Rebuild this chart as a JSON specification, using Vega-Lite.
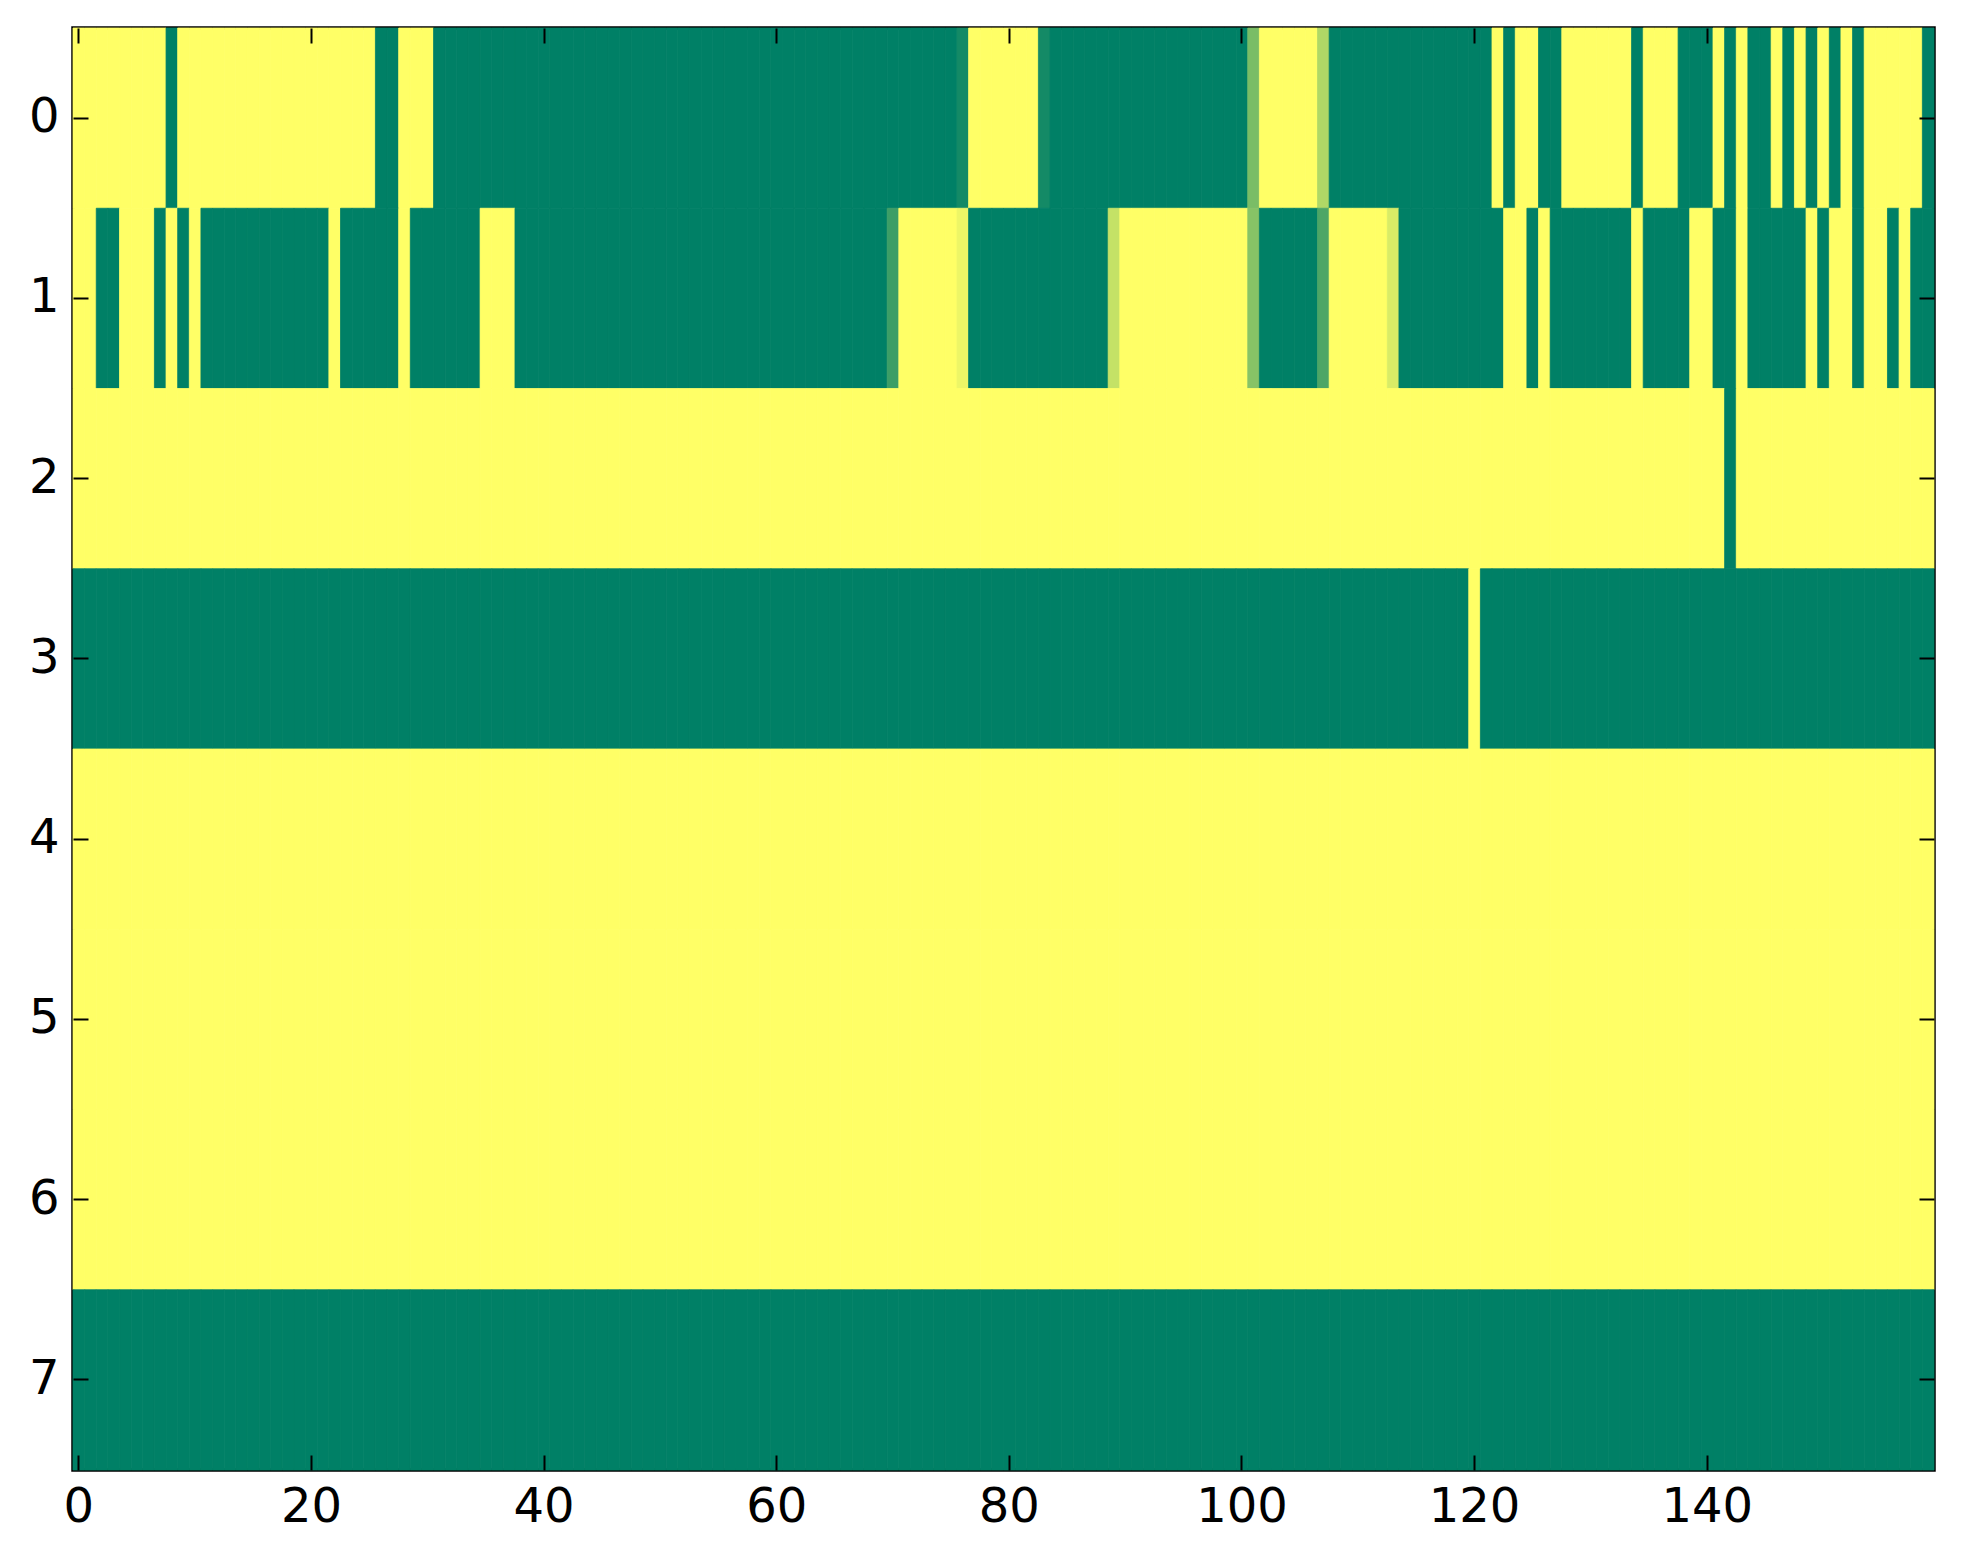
{
"$schema": "https://vega.github.io/schema/vega-lite/v6.json",
"width": 1861, "height": 1442,
"autosize": {"type": "none"},
"padding": {"left": 73, "top": 28, "right": 29, "bottom": 94},
"background": "white",
"config": {
 "view": {"stroke": "black", "strokeWidth": 3.5},
 "axis": {"domain": false, "grid": false, "title": null, "tickColor": "black", "tickWidth": 2, "tickSize": -15, "labelFont": "DejaVu Sans", "labelFontSize": 48, "labelColor": "black", "labelOverlap": false, "bandPosition": 0.5}
},
"data": {"values": [
{"r":0,"c":0,"v":1},{"r":0,"c":1,"v":1},{"r":0,"c":2,"v":1},{"r":0,"c":3,"v":1},{"r":0,"c":4,"v":1},{"r":0,"c":5,"v":1},{"r":0,"c":6,"v":1},{"r":0,"c":7,"v":1},{"r":0,"c":8,"v":0},{"r":0,"c":9,"v":1},
{"r":0,"c":10,"v":1},{"r":0,"c":11,"v":1},{"r":0,"c":12,"v":1},{"r":0,"c":13,"v":1},{"r":0,"c":14,"v":1},{"r":0,"c":15,"v":1},{"r":0,"c":16,"v":1},{"r":0,"c":17,"v":1},{"r":0,"c":18,"v":1},{"r":0,"c":19,"v":1},
{"r":0,"c":20,"v":1},{"r":0,"c":21,"v":1},{"r":0,"c":22,"v":1},{"r":0,"c":23,"v":1},{"r":0,"c":24,"v":1},{"r":0,"c":25,"v":1},{"r":0,"c":26,"v":0},{"r":0,"c":27,"v":0},{"r":0,"c":28,"v":1},{"r":0,"c":29,"v":1},
{"r":0,"c":30,"v":1},{"r":0,"c":31,"v":0},{"r":0,"c":32,"v":0},{"r":0,"c":33,"v":0},{"r":0,"c":34,"v":0},{"r":0,"c":35,"v":0},{"r":0,"c":36,"v":0},{"r":0,"c":37,"v":0},{"r":0,"c":38,"v":0},{"r":0,"c":39,"v":0},
{"r":0,"c":40,"v":0},{"r":0,"c":41,"v":0},{"r":0,"c":42,"v":0},{"r":0,"c":43,"v":0},{"r":0,"c":44,"v":0},{"r":0,"c":45,"v":0},{"r":0,"c":46,"v":0},{"r":0,"c":47,"v":0},{"r":0,"c":48,"v":0},{"r":0,"c":49,"v":0},
{"r":0,"c":50,"v":0},{"r":0,"c":51,"v":0},{"r":0,"c":52,"v":0},{"r":0,"c":53,"v":0},{"r":0,"c":54,"v":0},{"r":0,"c":55,"v":0},{"r":0,"c":56,"v":0},{"r":0,"c":57,"v":0},{"r":0,"c":58,"v":0},{"r":0,"c":59,"v":0},
{"r":0,"c":60,"v":0},{"r":0,"c":61,"v":0},{"r":0,"c":62,"v":0},{"r":0,"c":63,"v":0},{"r":0,"c":64,"v":0},{"r":0,"c":65,"v":0},{"r":0,"c":66,"v":0},{"r":0,"c":67,"v":0},{"r":0,"c":68,"v":0},{"r":0,"c":69,"v":0},
{"r":0,"c":70,"v":0},{"r":0,"c":71,"v":0},{"r":0,"c":72,"v":0},{"r":0,"c":73,"v":0},{"r":0,"c":74,"v":0},{"r":0,"c":75,"v":0},{"r":0,"c":76,"v":0.08},{"r":0,"c":77,"v":1},{"r":0,"c":78,"v":1},{"r":0,"c":79,"v":1},
{"r":0,"c":80,"v":1},{"r":0,"c":81,"v":1},{"r":0,"c":82,"v":1},{"r":0,"c":83,"v":0.08},{"r":0,"c":84,"v":0},{"r":0,"c":85,"v":0},{"r":0,"c":86,"v":0},{"r":0,"c":87,"v":0},{"r":0,"c":88,"v":0},{"r":0,"c":89,"v":0},
{"r":0,"c":90,"v":0},{"r":0,"c":91,"v":0},{"r":0,"c":92,"v":0},{"r":0,"c":93,"v":0},{"r":0,"c":94,"v":0},{"r":0,"c":95,"v":0},{"r":0,"c":96,"v":0},{"r":0,"c":97,"v":0},{"r":0,"c":98,"v":0},{"r":0,"c":99,"v":0},
{"r":0,"c":100,"v":0},{"r":0,"c":101,"v":0.48},{"r":0,"c":102,"v":1},{"r":0,"c":103,"v":1},{"r":0,"c":104,"v":1},{"r":0,"c":105,"v":1},{"r":0,"c":106,"v":1},{"r":0,"c":107,"v":0.69},{"r":0,"c":108,"v":0},{"r":0,"c":109,"v":0},
{"r":0,"c":110,"v":0},{"r":0,"c":111,"v":0},{"r":0,"c":112,"v":0},{"r":0,"c":113,"v":0},{"r":0,"c":114,"v":0},{"r":0,"c":115,"v":0},{"r":0,"c":116,"v":0},{"r":0,"c":117,"v":0},{"r":0,"c":118,"v":0},{"r":0,"c":119,"v":0},
{"r":0,"c":120,"v":0},{"r":0,"c":121,"v":0},{"r":0,"c":122,"v":1},{"r":0,"c":123,"v":0},{"r":0,"c":124,"v":1},{"r":0,"c":125,"v":1},{"r":0,"c":126,"v":0},{"r":0,"c":127,"v":0},{"r":0,"c":128,"v":1},{"r":0,"c":129,"v":1},
{"r":0,"c":130,"v":1},{"r":0,"c":131,"v":1},{"r":0,"c":132,"v":1},{"r":0,"c":133,"v":1},{"r":0,"c":134,"v":0},{"r":0,"c":135,"v":1},{"r":0,"c":136,"v":1},{"r":0,"c":137,"v":1},{"r":0,"c":138,"v":0},{"r":0,"c":139,"v":0},
{"r":0,"c":140,"v":0},{"r":0,"c":141,"v":1},{"r":0,"c":142,"v":0},{"r":0,"c":143,"v":1},{"r":0,"c":144,"v":0},{"r":0,"c":145,"v":0},{"r":0,"c":146,"v":1},{"r":0,"c":147,"v":0},{"r":0,"c":148,"v":1},{"r":0,"c":149,"v":0},
{"r":0,"c":150,"v":1},{"r":0,"c":151,"v":0},{"r":0,"c":152,"v":1},{"r":0,"c":153,"v":0},{"r":0,"c":154,"v":1},{"r":0,"c":155,"v":1},{"r":0,"c":156,"v":1},{"r":0,"c":157,"v":1},{"r":0,"c":158,"v":1},{"r":0,"c":159,"v":0},
{"r":1,"c":0,"v":1},{"r":1,"c":1,"v":1},{"r":1,"c":2,"v":0},{"r":1,"c":3,"v":0},{"r":1,"c":4,"v":1},{"r":1,"c":5,"v":1},{"r":1,"c":6,"v":1},{"r":1,"c":7,"v":0},{"r":1,"c":8,"v":1},{"r":1,"c":9,"v":0},
{"r":1,"c":10,"v":1},{"r":1,"c":11,"v":0},{"r":1,"c":12,"v":0},{"r":1,"c":13,"v":0},{"r":1,"c":14,"v":0},{"r":1,"c":15,"v":0},{"r":1,"c":16,"v":0},{"r":1,"c":17,"v":0},{"r":1,"c":18,"v":0},{"r":1,"c":19,"v":0},
{"r":1,"c":20,"v":0},{"r":1,"c":21,"v":0},{"r":1,"c":22,"v":1},{"r":1,"c":23,"v":0},{"r":1,"c":24,"v":0},{"r":1,"c":25,"v":0},{"r":1,"c":26,"v":0},{"r":1,"c":27,"v":0},{"r":1,"c":28,"v":1},{"r":1,"c":29,"v":0},
{"r":1,"c":30,"v":0},{"r":1,"c":31,"v":0},{"r":1,"c":32,"v":0},{"r":1,"c":33,"v":0},{"r":1,"c":34,"v":0},{"r":1,"c":35,"v":1},{"r":1,"c":36,"v":1},{"r":1,"c":37,"v":1},{"r":1,"c":38,"v":0},{"r":1,"c":39,"v":0},
{"r":1,"c":40,"v":0},{"r":1,"c":41,"v":0},{"r":1,"c":42,"v":0},{"r":1,"c":43,"v":0},{"r":1,"c":44,"v":0},{"r":1,"c":45,"v":0},{"r":1,"c":46,"v":0},{"r":1,"c":47,"v":0},{"r":1,"c":48,"v":0},{"r":1,"c":49,"v":0},
{"r":1,"c":50,"v":0},{"r":1,"c":51,"v":0},{"r":1,"c":52,"v":0},{"r":1,"c":53,"v":0},{"r":1,"c":54,"v":0},{"r":1,"c":55,"v":0},{"r":1,"c":56,"v":0},{"r":1,"c":57,"v":0},{"r":1,"c":58,"v":0},{"r":1,"c":59,"v":0},
{"r":1,"c":60,"v":0},{"r":1,"c":61,"v":0},{"r":1,"c":62,"v":0},{"r":1,"c":63,"v":0},{"r":1,"c":64,"v":0},{"r":1,"c":65,"v":0},{"r":1,"c":66,"v":0},{"r":1,"c":67,"v":0},{"r":1,"c":68,"v":0},{"r":1,"c":69,"v":0},
{"r":1,"c":70,"v":0.24},{"r":1,"c":71,"v":1},{"r":1,"c":72,"v":1},{"r":1,"c":73,"v":1},{"r":1,"c":74,"v":1},{"r":1,"c":75,"v":1},{"r":1,"c":76,"v":0.93},{"r":1,"c":77,"v":0},{"r":1,"c":78,"v":0},{"r":1,"c":79,"v":0},
{"r":1,"c":80,"v":0},{"r":1,"c":81,"v":0},{"r":1,"c":82,"v":0},{"r":1,"c":83,"v":0},{"r":1,"c":84,"v":0},{"r":1,"c":85,"v":0},{"r":1,"c":86,"v":0},{"r":1,"c":87,"v":0},{"r":1,"c":88,"v":0},{"r":1,"c":89,"v":0.77},
{"r":1,"c":90,"v":1},{"r":1,"c":91,"v":1},{"r":1,"c":92,"v":1},{"r":1,"c":93,"v":1},{"r":1,"c":94,"v":1},{"r":1,"c":95,"v":1},{"r":1,"c":96,"v":1},{"r":1,"c":97,"v":1},{"r":1,"c":98,"v":1},{"r":1,"c":99,"v":1},
{"r":1,"c":100,"v":1},{"r":1,"c":101,"v":0.53},{"r":1,"c":102,"v":0},{"r":1,"c":103,"v":0},{"r":1,"c":104,"v":0},{"r":1,"c":105,"v":0},{"r":1,"c":106,"v":0},{"r":1,"c":107,"v":0.3},{"r":1,"c":108,"v":1},{"r":1,"c":109,"v":1},
{"r":1,"c":110,"v":1},{"r":1,"c":111,"v":1},{"r":1,"c":112,"v":1},{"r":1,"c":113,"v":0.85},{"r":1,"c":114,"v":0},{"r":1,"c":115,"v":0},{"r":1,"c":116,"v":0},{"r":1,"c":117,"v":0},{"r":1,"c":118,"v":0},{"r":1,"c":119,"v":0},
{"r":1,"c":120,"v":0},{"r":1,"c":121,"v":0},{"r":1,"c":122,"v":0},{"r":1,"c":123,"v":1},{"r":1,"c":124,"v":1},{"r":1,"c":125,"v":0},{"r":1,"c":126,"v":1},{"r":1,"c":127,"v":0},{"r":1,"c":128,"v":0},{"r":1,"c":129,"v":0},
{"r":1,"c":130,"v":0},{"r":1,"c":131,"v":0},{"r":1,"c":132,"v":0},{"r":1,"c":133,"v":0},{"r":1,"c":134,"v":1},{"r":1,"c":135,"v":0},{"r":1,"c":136,"v":0},{"r":1,"c":137,"v":0},{"r":1,"c":138,"v":0},{"r":1,"c":139,"v":1},
{"r":1,"c":140,"v":1},{"r":1,"c":141,"v":0},{"r":1,"c":142,"v":0},{"r":1,"c":143,"v":1},{"r":1,"c":144,"v":0},{"r":1,"c":145,"v":0},{"r":1,"c":146,"v":0},{"r":1,"c":147,"v":0},{"r":1,"c":148,"v":0},{"r":1,"c":149,"v":1},
{"r":1,"c":150,"v":0},{"r":1,"c":151,"v":1},{"r":1,"c":152,"v":1},{"r":1,"c":153,"v":0},{"r":1,"c":154,"v":1},{"r":1,"c":155,"v":1},{"r":1,"c":156,"v":0},{"r":1,"c":157,"v":1},{"r":1,"c":158,"v":0},{"r":1,"c":159,"v":0},
{"r":2,"c":0,"v":1},{"r":2,"c":1,"v":1},{"r":2,"c":2,"v":1},{"r":2,"c":3,"v":1},{"r":2,"c":4,"v":1},{"r":2,"c":5,"v":1},{"r":2,"c":6,"v":1},{"r":2,"c":7,"v":1},{"r":2,"c":8,"v":1},{"r":2,"c":9,"v":1},
{"r":2,"c":10,"v":1},{"r":2,"c":11,"v":1},{"r":2,"c":12,"v":1},{"r":2,"c":13,"v":1},{"r":2,"c":14,"v":1},{"r":2,"c":15,"v":1},{"r":2,"c":16,"v":1},{"r":2,"c":17,"v":1},{"r":2,"c":18,"v":1},{"r":2,"c":19,"v":1},
{"r":2,"c":20,"v":1},{"r":2,"c":21,"v":1},{"r":2,"c":22,"v":1},{"r":2,"c":23,"v":1},{"r":2,"c":24,"v":1},{"r":2,"c":25,"v":1},{"r":2,"c":26,"v":1},{"r":2,"c":27,"v":1},{"r":2,"c":28,"v":1},{"r":2,"c":29,"v":1},
{"r":2,"c":30,"v":1},{"r":2,"c":31,"v":1},{"r":2,"c":32,"v":1},{"r":2,"c":33,"v":1},{"r":2,"c":34,"v":1},{"r":2,"c":35,"v":1},{"r":2,"c":36,"v":1},{"r":2,"c":37,"v":1},{"r":2,"c":38,"v":1},{"r":2,"c":39,"v":1},
{"r":2,"c":40,"v":1},{"r":2,"c":41,"v":1},{"r":2,"c":42,"v":1},{"r":2,"c":43,"v":1},{"r":2,"c":44,"v":1},{"r":2,"c":45,"v":1},{"r":2,"c":46,"v":1},{"r":2,"c":47,"v":1},{"r":2,"c":48,"v":1},{"r":2,"c":49,"v":1},
{"r":2,"c":50,"v":1},{"r":2,"c":51,"v":1},{"r":2,"c":52,"v":1},{"r":2,"c":53,"v":1},{"r":2,"c":54,"v":1},{"r":2,"c":55,"v":1},{"r":2,"c":56,"v":1},{"r":2,"c":57,"v":1},{"r":2,"c":58,"v":1},{"r":2,"c":59,"v":1},
{"r":2,"c":60,"v":1},{"r":2,"c":61,"v":1},{"r":2,"c":62,"v":1},{"r":2,"c":63,"v":1},{"r":2,"c":64,"v":1},{"r":2,"c":65,"v":1},{"r":2,"c":66,"v":1},{"r":2,"c":67,"v":1},{"r":2,"c":68,"v":1},{"r":2,"c":69,"v":1},
{"r":2,"c":70,"v":1},{"r":2,"c":71,"v":1},{"r":2,"c":72,"v":1},{"r":2,"c":73,"v":1},{"r":2,"c":74,"v":1},{"r":2,"c":75,"v":1},{"r":2,"c":76,"v":1},{"r":2,"c":77,"v":1},{"r":2,"c":78,"v":1},{"r":2,"c":79,"v":1},
{"r":2,"c":80,"v":1},{"r":2,"c":81,"v":1},{"r":2,"c":82,"v":1},{"r":2,"c":83,"v":1},{"r":2,"c":84,"v":1},{"r":2,"c":85,"v":1},{"r":2,"c":86,"v":1},{"r":2,"c":87,"v":1},{"r":2,"c":88,"v":1},{"r":2,"c":89,"v":1},
{"r":2,"c":90,"v":1},{"r":2,"c":91,"v":1},{"r":2,"c":92,"v":1},{"r":2,"c":93,"v":1},{"r":2,"c":94,"v":1},{"r":2,"c":95,"v":1},{"r":2,"c":96,"v":1},{"r":2,"c":97,"v":1},{"r":2,"c":98,"v":1},{"r":2,"c":99,"v":1},
{"r":2,"c":100,"v":1},{"r":2,"c":101,"v":1},{"r":2,"c":102,"v":1},{"r":2,"c":103,"v":1},{"r":2,"c":104,"v":1},{"r":2,"c":105,"v":1},{"r":2,"c":106,"v":1},{"r":2,"c":107,"v":1},{"r":2,"c":108,"v":1},{"r":2,"c":109,"v":1},
{"r":2,"c":110,"v":1},{"r":2,"c":111,"v":1},{"r":2,"c":112,"v":1},{"r":2,"c":113,"v":1},{"r":2,"c":114,"v":1},{"r":2,"c":115,"v":1},{"r":2,"c":116,"v":1},{"r":2,"c":117,"v":1},{"r":2,"c":118,"v":1},{"r":2,"c":119,"v":1},
{"r":2,"c":120,"v":1},{"r":2,"c":121,"v":1},{"r":2,"c":122,"v":1},{"r":2,"c":123,"v":1},{"r":2,"c":124,"v":1},{"r":2,"c":125,"v":1},{"r":2,"c":126,"v":1},{"r":2,"c":127,"v":1},{"r":2,"c":128,"v":1},{"r":2,"c":129,"v":1},
{"r":2,"c":130,"v":1},{"r":2,"c":131,"v":1},{"r":2,"c":132,"v":1},{"r":2,"c":133,"v":1},{"r":2,"c":134,"v":1},{"r":2,"c":135,"v":1},{"r":2,"c":136,"v":1},{"r":2,"c":137,"v":1},{"r":2,"c":138,"v":1},{"r":2,"c":139,"v":1},
{"r":2,"c":140,"v":1},{"r":2,"c":141,"v":1},{"r":2,"c":142,"v":0},{"r":2,"c":143,"v":1},{"r":2,"c":144,"v":1},{"r":2,"c":145,"v":1},{"r":2,"c":146,"v":1},{"r":2,"c":147,"v":1},{"r":2,"c":148,"v":1},{"r":2,"c":149,"v":1},
{"r":2,"c":150,"v":1},{"r":2,"c":151,"v":1},{"r":2,"c":152,"v":1},{"r":2,"c":153,"v":1},{"r":2,"c":154,"v":1},{"r":2,"c":155,"v":1},{"r":2,"c":156,"v":1},{"r":2,"c":157,"v":1},{"r":2,"c":158,"v":1},{"r":2,"c":159,"v":1},
{"r":3,"c":0,"v":0},{"r":3,"c":1,"v":0},{"r":3,"c":2,"v":0},{"r":3,"c":3,"v":0},{"r":3,"c":4,"v":0},{"r":3,"c":5,"v":0},{"r":3,"c":6,"v":0},{"r":3,"c":7,"v":0},{"r":3,"c":8,"v":0},{"r":3,"c":9,"v":0},
{"r":3,"c":10,"v":0},{"r":3,"c":11,"v":0},{"r":3,"c":12,"v":0},{"r":3,"c":13,"v":0},{"r":3,"c":14,"v":0},{"r":3,"c":15,"v":0},{"r":3,"c":16,"v":0},{"r":3,"c":17,"v":0},{"r":3,"c":18,"v":0},{"r":3,"c":19,"v":0},
{"r":3,"c":20,"v":0},{"r":3,"c":21,"v":0},{"r":3,"c":22,"v":0},{"r":3,"c":23,"v":0},{"r":3,"c":24,"v":0},{"r":3,"c":25,"v":0},{"r":3,"c":26,"v":0},{"r":3,"c":27,"v":0},{"r":3,"c":28,"v":0},{"r":3,"c":29,"v":0},
{"r":3,"c":30,"v":0},{"r":3,"c":31,"v":0},{"r":3,"c":32,"v":0},{"r":3,"c":33,"v":0},{"r":3,"c":34,"v":0},{"r":3,"c":35,"v":0},{"r":3,"c":36,"v":0},{"r":3,"c":37,"v":0},{"r":3,"c":38,"v":0},{"r":3,"c":39,"v":0},
{"r":3,"c":40,"v":0},{"r":3,"c":41,"v":0},{"r":3,"c":42,"v":0},{"r":3,"c":43,"v":0},{"r":3,"c":44,"v":0},{"r":3,"c":45,"v":0},{"r":3,"c":46,"v":0},{"r":3,"c":47,"v":0},{"r":3,"c":48,"v":0},{"r":3,"c":49,"v":0},
{"r":3,"c":50,"v":0},{"r":3,"c":51,"v":0},{"r":3,"c":52,"v":0},{"r":3,"c":53,"v":0},{"r":3,"c":54,"v":0},{"r":3,"c":55,"v":0},{"r":3,"c":56,"v":0},{"r":3,"c":57,"v":0},{"r":3,"c":58,"v":0},{"r":3,"c":59,"v":0},
{"r":3,"c":60,"v":0},{"r":3,"c":61,"v":0},{"r":3,"c":62,"v":0},{"r":3,"c":63,"v":0},{"r":3,"c":64,"v":0},{"r":3,"c":65,"v":0},{"r":3,"c":66,"v":0},{"r":3,"c":67,"v":0},{"r":3,"c":68,"v":0},{"r":3,"c":69,"v":0},
{"r":3,"c":70,"v":0},{"r":3,"c":71,"v":0},{"r":3,"c":72,"v":0},{"r":3,"c":73,"v":0},{"r":3,"c":74,"v":0},{"r":3,"c":75,"v":0},{"r":3,"c":76,"v":0},{"r":3,"c":77,"v":0},{"r":3,"c":78,"v":0},{"r":3,"c":79,"v":0},
{"r":3,"c":80,"v":0},{"r":3,"c":81,"v":0},{"r":3,"c":82,"v":0},{"r":3,"c":83,"v":0},{"r":3,"c":84,"v":0},{"r":3,"c":85,"v":0},{"r":3,"c":86,"v":0},{"r":3,"c":87,"v":0},{"r":3,"c":88,"v":0},{"r":3,"c":89,"v":0},
{"r":3,"c":90,"v":0},{"r":3,"c":91,"v":0},{"r":3,"c":92,"v":0},{"r":3,"c":93,"v":0},{"r":3,"c":94,"v":0},{"r":3,"c":95,"v":0},{"r":3,"c":96,"v":0},{"r":3,"c":97,"v":0},{"r":3,"c":98,"v":0},{"r":3,"c":99,"v":0},
{"r":3,"c":100,"v":0},{"r":3,"c":101,"v":0},{"r":3,"c":102,"v":0},{"r":3,"c":103,"v":0},{"r":3,"c":104,"v":0},{"r":3,"c":105,"v":0},{"r":3,"c":106,"v":0},{"r":3,"c":107,"v":0},{"r":3,"c":108,"v":0},{"r":3,"c":109,"v":0},
{"r":3,"c":110,"v":0},{"r":3,"c":111,"v":0},{"r":3,"c":112,"v":0},{"r":3,"c":113,"v":0},{"r":3,"c":114,"v":0},{"r":3,"c":115,"v":0},{"r":3,"c":116,"v":0},{"r":3,"c":117,"v":0},{"r":3,"c":118,"v":0},{"r":3,"c":119,"v":0},
{"r":3,"c":120,"v":1},{"r":3,"c":121,"v":0},{"r":3,"c":122,"v":0},{"r":3,"c":123,"v":0},{"r":3,"c":124,"v":0},{"r":3,"c":125,"v":0},{"r":3,"c":126,"v":0},{"r":3,"c":127,"v":0},{"r":3,"c":128,"v":0},{"r":3,"c":129,"v":0},
{"r":3,"c":130,"v":0},{"r":3,"c":131,"v":0},{"r":3,"c":132,"v":0},{"r":3,"c":133,"v":0},{"r":3,"c":134,"v":0},{"r":3,"c":135,"v":0},{"r":3,"c":136,"v":0},{"r":3,"c":137,"v":0},{"r":3,"c":138,"v":0},{"r":3,"c":139,"v":0},
{"r":3,"c":140,"v":0},{"r":3,"c":141,"v":0},{"r":3,"c":142,"v":0},{"r":3,"c":143,"v":0},{"r":3,"c":144,"v":0},{"r":3,"c":145,"v":0},{"r":3,"c":146,"v":0},{"r":3,"c":147,"v":0},{"r":3,"c":148,"v":0},{"r":3,"c":149,"v":0},
{"r":3,"c":150,"v":0},{"r":3,"c":151,"v":0},{"r":3,"c":152,"v":0},{"r":3,"c":153,"v":0},{"r":3,"c":154,"v":0},{"r":3,"c":155,"v":0},{"r":3,"c":156,"v":0},{"r":3,"c":157,"v":0},{"r":3,"c":158,"v":0},{"r":3,"c":159,"v":0},
{"r":4,"c":0,"v":1},{"r":4,"c":1,"v":1},{"r":4,"c":2,"v":1},{"r":4,"c":3,"v":1},{"r":4,"c":4,"v":1},{"r":4,"c":5,"v":1},{"r":4,"c":6,"v":1},{"r":4,"c":7,"v":1},{"r":4,"c":8,"v":1},{"r":4,"c":9,"v":1},
{"r":4,"c":10,"v":1},{"r":4,"c":11,"v":1},{"r":4,"c":12,"v":1},{"r":4,"c":13,"v":1},{"r":4,"c":14,"v":1},{"r":4,"c":15,"v":1},{"r":4,"c":16,"v":1},{"r":4,"c":17,"v":1},{"r":4,"c":18,"v":1},{"r":4,"c":19,"v":1},
{"r":4,"c":20,"v":1},{"r":4,"c":21,"v":1},{"r":4,"c":22,"v":1},{"r":4,"c":23,"v":1},{"r":4,"c":24,"v":1},{"r":4,"c":25,"v":1},{"r":4,"c":26,"v":1},{"r":4,"c":27,"v":1},{"r":4,"c":28,"v":1},{"r":4,"c":29,"v":1},
{"r":4,"c":30,"v":1},{"r":4,"c":31,"v":1},{"r":4,"c":32,"v":1},{"r":4,"c":33,"v":1},{"r":4,"c":34,"v":1},{"r":4,"c":35,"v":1},{"r":4,"c":36,"v":1},{"r":4,"c":37,"v":1},{"r":4,"c":38,"v":1},{"r":4,"c":39,"v":1},
{"r":4,"c":40,"v":1},{"r":4,"c":41,"v":1},{"r":4,"c":42,"v":1},{"r":4,"c":43,"v":1},{"r":4,"c":44,"v":1},{"r":4,"c":45,"v":1},{"r":4,"c":46,"v":1},{"r":4,"c":47,"v":1},{"r":4,"c":48,"v":1},{"r":4,"c":49,"v":1},
{"r":4,"c":50,"v":1},{"r":4,"c":51,"v":1},{"r":4,"c":52,"v":1},{"r":4,"c":53,"v":1},{"r":4,"c":54,"v":1},{"r":4,"c":55,"v":1},{"r":4,"c":56,"v":1},{"r":4,"c":57,"v":1},{"r":4,"c":58,"v":1},{"r":4,"c":59,"v":1},
{"r":4,"c":60,"v":1},{"r":4,"c":61,"v":1},{"r":4,"c":62,"v":1},{"r":4,"c":63,"v":1},{"r":4,"c":64,"v":1},{"r":4,"c":65,"v":1},{"r":4,"c":66,"v":1},{"r":4,"c":67,"v":1},{"r":4,"c":68,"v":1},{"r":4,"c":69,"v":1},
{"r":4,"c":70,"v":1},{"r":4,"c":71,"v":1},{"r":4,"c":72,"v":1},{"r":4,"c":73,"v":1},{"r":4,"c":74,"v":1},{"r":4,"c":75,"v":1},{"r":4,"c":76,"v":1},{"r":4,"c":77,"v":1},{"r":4,"c":78,"v":1},{"r":4,"c":79,"v":1},
{"r":4,"c":80,"v":1},{"r":4,"c":81,"v":1},{"r":4,"c":82,"v":1},{"r":4,"c":83,"v":1},{"r":4,"c":84,"v":1},{"r":4,"c":85,"v":1},{"r":4,"c":86,"v":1},{"r":4,"c":87,"v":1},{"r":4,"c":88,"v":1},{"r":4,"c":89,"v":1},
{"r":4,"c":90,"v":1},{"r":4,"c":91,"v":1},{"r":4,"c":92,"v":1},{"r":4,"c":93,"v":1},{"r":4,"c":94,"v":1},{"r":4,"c":95,"v":1},{"r":4,"c":96,"v":1},{"r":4,"c":97,"v":1},{"r":4,"c":98,"v":1},{"r":4,"c":99,"v":1},
{"r":4,"c":100,"v":1},{"r":4,"c":101,"v":1},{"r":4,"c":102,"v":1},{"r":4,"c":103,"v":1},{"r":4,"c":104,"v":1},{"r":4,"c":105,"v":1},{"r":4,"c":106,"v":1},{"r":4,"c":107,"v":1},{"r":4,"c":108,"v":1},{"r":4,"c":109,"v":1},
{"r":4,"c":110,"v":1},{"r":4,"c":111,"v":1},{"r":4,"c":112,"v":1},{"r":4,"c":113,"v":1},{"r":4,"c":114,"v":1},{"r":4,"c":115,"v":1},{"r":4,"c":116,"v":1},{"r":4,"c":117,"v":1},{"r":4,"c":118,"v":1},{"r":4,"c":119,"v":1},
{"r":4,"c":120,"v":1},{"r":4,"c":121,"v":1},{"r":4,"c":122,"v":1},{"r":4,"c":123,"v":1},{"r":4,"c":124,"v":1},{"r":4,"c":125,"v":1},{"r":4,"c":126,"v":1},{"r":4,"c":127,"v":1},{"r":4,"c":128,"v":1},{"r":4,"c":129,"v":1},
{"r":4,"c":130,"v":1},{"r":4,"c":131,"v":1},{"r":4,"c":132,"v":1},{"r":4,"c":133,"v":1},{"r":4,"c":134,"v":1},{"r":4,"c":135,"v":1},{"r":4,"c":136,"v":1},{"r":4,"c":137,"v":1},{"r":4,"c":138,"v":1},{"r":4,"c":139,"v":1},
{"r":4,"c":140,"v":1},{"r":4,"c":141,"v":1},{"r":4,"c":142,"v":1},{"r":4,"c":143,"v":1},{"r":4,"c":144,"v":1},{"r":4,"c":145,"v":1},{"r":4,"c":146,"v":1},{"r":4,"c":147,"v":1},{"r":4,"c":148,"v":1},{"r":4,"c":149,"v":1},
{"r":4,"c":150,"v":1},{"r":4,"c":151,"v":1},{"r":4,"c":152,"v":1},{"r":4,"c":153,"v":1},{"r":4,"c":154,"v":1},{"r":4,"c":155,"v":1},{"r":4,"c":156,"v":1},{"r":4,"c":157,"v":1},{"r":4,"c":158,"v":1},{"r":4,"c":159,"v":1},
{"r":5,"c":0,"v":1},{"r":5,"c":1,"v":1},{"r":5,"c":2,"v":1},{"r":5,"c":3,"v":1},{"r":5,"c":4,"v":1},{"r":5,"c":5,"v":1},{"r":5,"c":6,"v":1},{"r":5,"c":7,"v":1},{"r":5,"c":8,"v":1},{"r":5,"c":9,"v":1},
{"r":5,"c":10,"v":1},{"r":5,"c":11,"v":1},{"r":5,"c":12,"v":1},{"r":5,"c":13,"v":1},{"r":5,"c":14,"v":1},{"r":5,"c":15,"v":1},{"r":5,"c":16,"v":1},{"r":5,"c":17,"v":1},{"r":5,"c":18,"v":1},{"r":5,"c":19,"v":1},
{"r":5,"c":20,"v":1},{"r":5,"c":21,"v":1},{"r":5,"c":22,"v":1},{"r":5,"c":23,"v":1},{"r":5,"c":24,"v":1},{"r":5,"c":25,"v":1},{"r":5,"c":26,"v":1},{"r":5,"c":27,"v":1},{"r":5,"c":28,"v":1},{"r":5,"c":29,"v":1},
{"r":5,"c":30,"v":1},{"r":5,"c":31,"v":1},{"r":5,"c":32,"v":1},{"r":5,"c":33,"v":1},{"r":5,"c":34,"v":1},{"r":5,"c":35,"v":1},{"r":5,"c":36,"v":1},{"r":5,"c":37,"v":1},{"r":5,"c":38,"v":1},{"r":5,"c":39,"v":1},
{"r":5,"c":40,"v":1},{"r":5,"c":41,"v":1},{"r":5,"c":42,"v":1},{"r":5,"c":43,"v":1},{"r":5,"c":44,"v":1},{"r":5,"c":45,"v":1},{"r":5,"c":46,"v":1},{"r":5,"c":47,"v":1},{"r":5,"c":48,"v":1},{"r":5,"c":49,"v":1},
{"r":5,"c":50,"v":1},{"r":5,"c":51,"v":1},{"r":5,"c":52,"v":1},{"r":5,"c":53,"v":1},{"r":5,"c":54,"v":1},{"r":5,"c":55,"v":1},{"r":5,"c":56,"v":1},{"r":5,"c":57,"v":1},{"r":5,"c":58,"v":1},{"r":5,"c":59,"v":1},
{"r":5,"c":60,"v":1},{"r":5,"c":61,"v":1},{"r":5,"c":62,"v":1},{"r":5,"c":63,"v":1},{"r":5,"c":64,"v":1},{"r":5,"c":65,"v":1},{"r":5,"c":66,"v":1},{"r":5,"c":67,"v":1},{"r":5,"c":68,"v":1},{"r":5,"c":69,"v":1},
{"r":5,"c":70,"v":1},{"r":5,"c":71,"v":1},{"r":5,"c":72,"v":1},{"r":5,"c":73,"v":1},{"r":5,"c":74,"v":1},{"r":5,"c":75,"v":1},{"r":5,"c":76,"v":1},{"r":5,"c":77,"v":1},{"r":5,"c":78,"v":1},{"r":5,"c":79,"v":1},
{"r":5,"c":80,"v":1},{"r":5,"c":81,"v":1},{"r":5,"c":82,"v":1},{"r":5,"c":83,"v":1},{"r":5,"c":84,"v":1},{"r":5,"c":85,"v":1},{"r":5,"c":86,"v":1},{"r":5,"c":87,"v":1},{"r":5,"c":88,"v":1},{"r":5,"c":89,"v":1},
{"r":5,"c":90,"v":1},{"r":5,"c":91,"v":1},{"r":5,"c":92,"v":1},{"r":5,"c":93,"v":1},{"r":5,"c":94,"v":1},{"r":5,"c":95,"v":1},{"r":5,"c":96,"v":1},{"r":5,"c":97,"v":1},{"r":5,"c":98,"v":1},{"r":5,"c":99,"v":1},
{"r":5,"c":100,"v":1},{"r":5,"c":101,"v":1},{"r":5,"c":102,"v":1},{"r":5,"c":103,"v":1},{"r":5,"c":104,"v":1},{"r":5,"c":105,"v":1},{"r":5,"c":106,"v":1},{"r":5,"c":107,"v":1},{"r":5,"c":108,"v":1},{"r":5,"c":109,"v":1},
{"r":5,"c":110,"v":1},{"r":5,"c":111,"v":1},{"r":5,"c":112,"v":1},{"r":5,"c":113,"v":1},{"r":5,"c":114,"v":1},{"r":5,"c":115,"v":1},{"r":5,"c":116,"v":1},{"r":5,"c":117,"v":1},{"r":5,"c":118,"v":1},{"r":5,"c":119,"v":1},
{"r":5,"c":120,"v":1},{"r":5,"c":121,"v":1},{"r":5,"c":122,"v":1},{"r":5,"c":123,"v":1},{"r":5,"c":124,"v":1},{"r":5,"c":125,"v":1},{"r":5,"c":126,"v":1},{"r":5,"c":127,"v":1},{"r":5,"c":128,"v":1},{"r":5,"c":129,"v":1},
{"r":5,"c":130,"v":1},{"r":5,"c":131,"v":1},{"r":5,"c":132,"v":1},{"r":5,"c":133,"v":1},{"r":5,"c":134,"v":1},{"r":5,"c":135,"v":1},{"r":5,"c":136,"v":1},{"r":5,"c":137,"v":1},{"r":5,"c":138,"v":1},{"r":5,"c":139,"v":1},
{"r":5,"c":140,"v":1},{"r":5,"c":141,"v":1},{"r":5,"c":142,"v":1},{"r":5,"c":143,"v":1},{"r":5,"c":144,"v":1},{"r":5,"c":145,"v":1},{"r":5,"c":146,"v":1},{"r":5,"c":147,"v":1},{"r":5,"c":148,"v":1},{"r":5,"c":149,"v":1},
{"r":5,"c":150,"v":1},{"r":5,"c":151,"v":1},{"r":5,"c":152,"v":1},{"r":5,"c":153,"v":1},{"r":5,"c":154,"v":1},{"r":5,"c":155,"v":1},{"r":5,"c":156,"v":1},{"r":5,"c":157,"v":1},{"r":5,"c":158,"v":1},{"r":5,"c":159,"v":1},
{"r":6,"c":0,"v":1},{"r":6,"c":1,"v":1},{"r":6,"c":2,"v":1},{"r":6,"c":3,"v":1},{"r":6,"c":4,"v":1},{"r":6,"c":5,"v":1},{"r":6,"c":6,"v":1},{"r":6,"c":7,"v":1},{"r":6,"c":8,"v":1},{"r":6,"c":9,"v":1},
{"r":6,"c":10,"v":1},{"r":6,"c":11,"v":1},{"r":6,"c":12,"v":1},{"r":6,"c":13,"v":1},{"r":6,"c":14,"v":1},{"r":6,"c":15,"v":1},{"r":6,"c":16,"v":1},{"r":6,"c":17,"v":1},{"r":6,"c":18,"v":1},{"r":6,"c":19,"v":1},
{"r":6,"c":20,"v":1},{"r":6,"c":21,"v":1},{"r":6,"c":22,"v":1},{"r":6,"c":23,"v":1},{"r":6,"c":24,"v":1},{"r":6,"c":25,"v":1},{"r":6,"c":26,"v":1},{"r":6,"c":27,"v":1},{"r":6,"c":28,"v":1},{"r":6,"c":29,"v":1},
{"r":6,"c":30,"v":1},{"r":6,"c":31,"v":1},{"r":6,"c":32,"v":1},{"r":6,"c":33,"v":1},{"r":6,"c":34,"v":1},{"r":6,"c":35,"v":1},{"r":6,"c":36,"v":1},{"r":6,"c":37,"v":1},{"r":6,"c":38,"v":1},{"r":6,"c":39,"v":1},
{"r":6,"c":40,"v":1},{"r":6,"c":41,"v":1},{"r":6,"c":42,"v":1},{"r":6,"c":43,"v":1},{"r":6,"c":44,"v":1},{"r":6,"c":45,"v":1},{"r":6,"c":46,"v":1},{"r":6,"c":47,"v":1},{"r":6,"c":48,"v":1},{"r":6,"c":49,"v":1},
{"r":6,"c":50,"v":1},{"r":6,"c":51,"v":1},{"r":6,"c":52,"v":1},{"r":6,"c":53,"v":1},{"r":6,"c":54,"v":1},{"r":6,"c":55,"v":1},{"r":6,"c":56,"v":1},{"r":6,"c":57,"v":1},{"r":6,"c":58,"v":1},{"r":6,"c":59,"v":1},
{"r":6,"c":60,"v":1},{"r":6,"c":61,"v":1},{"r":6,"c":62,"v":1},{"r":6,"c":63,"v":1},{"r":6,"c":64,"v":1},{"r":6,"c":65,"v":1},{"r":6,"c":66,"v":1},{"r":6,"c":67,"v":1},{"r":6,"c":68,"v":1},{"r":6,"c":69,"v":1},
{"r":6,"c":70,"v":1},{"r":6,"c":71,"v":1},{"r":6,"c":72,"v":1},{"r":6,"c":73,"v":1},{"r":6,"c":74,"v":1},{"r":6,"c":75,"v":1},{"r":6,"c":76,"v":1},{"r":6,"c":77,"v":1},{"r":6,"c":78,"v":1},{"r":6,"c":79,"v":1},
{"r":6,"c":80,"v":1},{"r":6,"c":81,"v":1},{"r":6,"c":82,"v":1},{"r":6,"c":83,"v":1},{"r":6,"c":84,"v":1},{"r":6,"c":85,"v":1},{"r":6,"c":86,"v":1},{"r":6,"c":87,"v":1},{"r":6,"c":88,"v":1},{"r":6,"c":89,"v":1},
{"r":6,"c":90,"v":1},{"r":6,"c":91,"v":1},{"r":6,"c":92,"v":1},{"r":6,"c":93,"v":1},{"r":6,"c":94,"v":1},{"r":6,"c":95,"v":1},{"r":6,"c":96,"v":1},{"r":6,"c":97,"v":1},{"r":6,"c":98,"v":1},{"r":6,"c":99,"v":1},
{"r":6,"c":100,"v":1},{"r":6,"c":101,"v":1},{"r":6,"c":102,"v":1},{"r":6,"c":103,"v":1},{"r":6,"c":104,"v":1},{"r":6,"c":105,"v":1},{"r":6,"c":106,"v":1},{"r":6,"c":107,"v":1},{"r":6,"c":108,"v":1},{"r":6,"c":109,"v":1},
{"r":6,"c":110,"v":1},{"r":6,"c":111,"v":1},{"r":6,"c":112,"v":1},{"r":6,"c":113,"v":1},{"r":6,"c":114,"v":1},{"r":6,"c":115,"v":1},{"r":6,"c":116,"v":1},{"r":6,"c":117,"v":1},{"r":6,"c":118,"v":1},{"r":6,"c":119,"v":1},
{"r":6,"c":120,"v":1},{"r":6,"c":121,"v":1},{"r":6,"c":122,"v":1},{"r":6,"c":123,"v":1},{"r":6,"c":124,"v":1},{"r":6,"c":125,"v":1},{"r":6,"c":126,"v":1},{"r":6,"c":127,"v":1},{"r":6,"c":128,"v":1},{"r":6,"c":129,"v":1},
{"r":6,"c":130,"v":1},{"r":6,"c":131,"v":1},{"r":6,"c":132,"v":1},{"r":6,"c":133,"v":1},{"r":6,"c":134,"v":1},{"r":6,"c":135,"v":1},{"r":6,"c":136,"v":1},{"r":6,"c":137,"v":1},{"r":6,"c":138,"v":1},{"r":6,"c":139,"v":1},
{"r":6,"c":140,"v":1},{"r":6,"c":141,"v":1},{"r":6,"c":142,"v":1},{"r":6,"c":143,"v":1},{"r":6,"c":144,"v":1},{"r":6,"c":145,"v":1},{"r":6,"c":146,"v":1},{"r":6,"c":147,"v":1},{"r":6,"c":148,"v":1},{"r":6,"c":149,"v":1},
{"r":6,"c":150,"v":1},{"r":6,"c":151,"v":1},{"r":6,"c":152,"v":1},{"r":6,"c":153,"v":1},{"r":6,"c":154,"v":1},{"r":6,"c":155,"v":1},{"r":6,"c":156,"v":1},{"r":6,"c":157,"v":1},{"r":6,"c":158,"v":1},{"r":6,"c":159,"v":1},
{"r":7,"c":0,"v":0},{"r":7,"c":1,"v":0},{"r":7,"c":2,"v":0},{"r":7,"c":3,"v":0},{"r":7,"c":4,"v":0},{"r":7,"c":5,"v":0},{"r":7,"c":6,"v":0},{"r":7,"c":7,"v":0},{"r":7,"c":8,"v":0},{"r":7,"c":9,"v":0},
{"r":7,"c":10,"v":0},{"r":7,"c":11,"v":0},{"r":7,"c":12,"v":0},{"r":7,"c":13,"v":0},{"r":7,"c":14,"v":0},{"r":7,"c":15,"v":0},{"r":7,"c":16,"v":0},{"r":7,"c":17,"v":0},{"r":7,"c":18,"v":0},{"r":7,"c":19,"v":0},
{"r":7,"c":20,"v":0},{"r":7,"c":21,"v":0},{"r":7,"c":22,"v":0},{"r":7,"c":23,"v":0},{"r":7,"c":24,"v":0},{"r":7,"c":25,"v":0},{"r":7,"c":26,"v":0},{"r":7,"c":27,"v":0},{"r":7,"c":28,"v":0},{"r":7,"c":29,"v":0},
{"r":7,"c":30,"v":0},{"r":7,"c":31,"v":0},{"r":7,"c":32,"v":0},{"r":7,"c":33,"v":0},{"r":7,"c":34,"v":0},{"r":7,"c":35,"v":0},{"r":7,"c":36,"v":0},{"r":7,"c":37,"v":0},{"r":7,"c":38,"v":0},{"r":7,"c":39,"v":0},
{"r":7,"c":40,"v":0},{"r":7,"c":41,"v":0},{"r":7,"c":42,"v":0},{"r":7,"c":43,"v":0},{"r":7,"c":44,"v":0},{"r":7,"c":45,"v":0},{"r":7,"c":46,"v":0},{"r":7,"c":47,"v":0},{"r":7,"c":48,"v":0},{"r":7,"c":49,"v":0},
{"r":7,"c":50,"v":0},{"r":7,"c":51,"v":0},{"r":7,"c":52,"v":0},{"r":7,"c":53,"v":0},{"r":7,"c":54,"v":0},{"r":7,"c":55,"v":0},{"r":7,"c":56,"v":0},{"r":7,"c":57,"v":0},{"r":7,"c":58,"v":0},{"r":7,"c":59,"v":0},
{"r":7,"c":60,"v":0},{"r":7,"c":61,"v":0},{"r":7,"c":62,"v":0},{"r":7,"c":63,"v":0},{"r":7,"c":64,"v":0},{"r":7,"c":65,"v":0},{"r":7,"c":66,"v":0},{"r":7,"c":67,"v":0},{"r":7,"c":68,"v":0},{"r":7,"c":69,"v":0},
{"r":7,"c":70,"v":0},{"r":7,"c":71,"v":0},{"r":7,"c":72,"v":0},{"r":7,"c":73,"v":0},{"r":7,"c":74,"v":0},{"r":7,"c":75,"v":0},{"r":7,"c":76,"v":0},{"r":7,"c":77,"v":0},{"r":7,"c":78,"v":0},{"r":7,"c":79,"v":0},
{"r":7,"c":80,"v":0},{"r":7,"c":81,"v":0},{"r":7,"c":82,"v":0},{"r":7,"c":83,"v":0},{"r":7,"c":84,"v":0},{"r":7,"c":85,"v":0},{"r":7,"c":86,"v":0},{"r":7,"c":87,"v":0},{"r":7,"c":88,"v":0},{"r":7,"c":89,"v":0},
{"r":7,"c":90,"v":0},{"r":7,"c":91,"v":0},{"r":7,"c":92,"v":0},{"r":7,"c":93,"v":0},{"r":7,"c":94,"v":0},{"r":7,"c":95,"v":0},{"r":7,"c":96,"v":0},{"r":7,"c":97,"v":0},{"r":7,"c":98,"v":0},{"r":7,"c":99,"v":0},
{"r":7,"c":100,"v":0},{"r":7,"c":101,"v":0},{"r":7,"c":102,"v":0},{"r":7,"c":103,"v":0},{"r":7,"c":104,"v":0},{"r":7,"c":105,"v":0},{"r":7,"c":106,"v":0},{"r":7,"c":107,"v":0},{"r":7,"c":108,"v":0},{"r":7,"c":109,"v":0},
{"r":7,"c":110,"v":0},{"r":7,"c":111,"v":0},{"r":7,"c":112,"v":0},{"r":7,"c":113,"v":0},{"r":7,"c":114,"v":0},{"r":7,"c":115,"v":0},{"r":7,"c":116,"v":0},{"r":7,"c":117,"v":0},{"r":7,"c":118,"v":0},{"r":7,"c":119,"v":0},
{"r":7,"c":120,"v":0},{"r":7,"c":121,"v":0},{"r":7,"c":122,"v":0},{"r":7,"c":123,"v":0},{"r":7,"c":124,"v":0},{"r":7,"c":125,"v":0},{"r":7,"c":126,"v":0},{"r":7,"c":127,"v":0},{"r":7,"c":128,"v":0},{"r":7,"c":129,"v":0},
{"r":7,"c":130,"v":0},{"r":7,"c":131,"v":0},{"r":7,"c":132,"v":0},{"r":7,"c":133,"v":0},{"r":7,"c":134,"v":0},{"r":7,"c":135,"v":0},{"r":7,"c":136,"v":0},{"r":7,"c":137,"v":0},{"r":7,"c":138,"v":0},{"r":7,"c":139,"v":0},
{"r":7,"c":140,"v":0},{"r":7,"c":141,"v":0},{"r":7,"c":142,"v":0},{"r":7,"c":143,"v":0},{"r":7,"c":144,"v":0},{"r":7,"c":145,"v":0},{"r":7,"c":146,"v":0},{"r":7,"c":147,"v":0},{"r":7,"c":148,"v":0},{"r":7,"c":149,"v":0},
{"r":7,"c":150,"v":0},{"r":7,"c":151,"v":0},{"r":7,"c":152,"v":0},{"r":7,"c":153,"v":0},{"r":7,"c":154,"v":0},{"r":7,"c":155,"v":0},{"r":7,"c":156,"v":0},{"r":7,"c":157,"v":0},{"r":7,"c":158,"v":0},{"r":7,"c":159,"v":0}
]},
"layer": [
 {
  "mark": {"type": "rect", "strokeWidth": 0.8},
  "encoding": {
   "x": {"field": "c", "type": "ordinal", "scale": {"paddingInner": 0, "paddingOuter": 0}, "axis": {"orient": "bottom", "values": [0,20,40,60,80,100,120,140], "labelAngle": 0, "labelPadding": 28}},
   "y": {"field": "r", "type": "ordinal", "scale": {"paddingInner": 0, "paddingOuter": 0}, "axis": {"orient": "left", "values": [0,1,2,3,4,5,6,7], "labelPadding": 29}},
   "color": {"field": "v", "type": "quantitative", "scale": {"domain": [0, 1], "range": ["#008066", "#ffff66"], "interpolate": "rgb"}, "legend": null},
   "stroke": {"field": "v", "type": "quantitative", "scale": {"domain": [0, 1], "range": ["#008066", "#ffff66"], "interpolate": "rgb"}, "legend": null}
  }
 },
 {
  "mark": {"type": "rect", "opacity": 0},
  "encoding": {
   "x": {"field": "c", "type": "ordinal", "axis": {"orient": "top", "values": [0,20,40,60,80,100,120,140], "labels": false}},
   "y": {"field": "r", "type": "ordinal", "axis": {"orient": "right", "values": [0,1,2,3,4,5,6,7], "labels": false}}
  }
 }
],
"resolve": {"axis": {"x": "independent", "y": "independent"}}
}
